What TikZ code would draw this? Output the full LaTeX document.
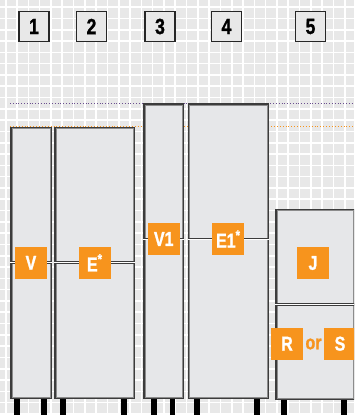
\documentclass[tikz,border=0pt]{standalone}
\usepackage{fontspec}
\newfontfamily\tagfont[FakeStretch=0.8,BoldFeatures={FakeBold=1.2}]{Liberation Sans}
\usetikzlibrary{calc}
\definecolor{paper}{HTML}{E8E8E8}
\definecolor{cabfill}{HTML}{E6E7E9}
\definecolor{cabedge}{HTML}{3C3C3C}
\definecolor{tagorange}{HTML}{F7941D}
\definecolor{topline}{HTML}{6B4F8F}

\begin{document}
\begin{tikzpicture}[x=1pt,y=-1pt,
      gridline/.style={white,line width=1.6pt},
      cabinet/.style={draw=cabedge,fill=cabfill,line width=1.9pt,anchor=north west,inner sep=0pt},
      cabinner/.style={draw=black!45,line width=0.6pt},
      divider/.style={draw=cabedge,double=white,double distance=1pt,line width=0.9pt},
      numbox/.style={draw=black!85,fill=paper,line width=1.6pt,minimum size=30pt,inner sep=0pt,
        font=\tagfont\bfseries\fontsize{22}{22}\selectfont},
      tag/.style={fill=tagorange,text=white,minimum size=32pt,inner sep=0pt,
        font=\tagfont\bfseries\fontsize{20}{20}\selectfont},
      leg/.style={fill=black}]
    \useasboundingbox (0,0) rectangle (354,415);
    \clip (0,0) rectangle (354,415);
    \fill[paper] (0,0) rectangle (354,415);
    % grid
    \foreach \i in {0,...,31}
      \draw[gridline] (5.7+\i*11.3,0) -- (5.7+\i*11.3,415);
    \foreach \j in {0,...,36}
      \draw[gridline] (0,7.1+\j*11.3) -- (354,7.1+\j*11.3);
    % height lines
    \draw[topline,dotted,line width=0.8pt] (10,103.3) -- (354,103.3);
    \draw[tagorange,dotted,line width=0.9pt] (10,126.2) -- (354,126.2);
    % legs
    \foreach \x in {14,41,60,120.7,150.7,169.5,194,254,281,341}
      \fill[leg] (\x,390) rectangle ++(5.8,30);
    % cabinets
    \node[cabinet,minimum width=39.4pt,minimum height=270.3pt] (cabA) at (10.3,126.7) {};
    \node[cabinet,minimum width=79pt,minimum height=270.3pt] (cabB) at (54.3,126.7) {};
    \node[cabinet,minimum width=39pt,minimum height=293.7pt] (cabC) at (143.3,103.3) {};
    \node[cabinet,minimum width=78.7pt,minimum height=293.7pt] (cabD) at (188,103.3) {};
    \node[cabinet,minimum width=77.4pt,minimum height=189.3pt] (cabE) at (275.3,208.7) {};
    \foreach \c in {cabA,cabB,cabC,cabD,cabE}
      \draw[cabinner] ($(\c.north west)+(1.5,1.5)$) rectangle ($(\c.south east)+(-1.5,-1.5)$);
    \coordinate (splitC) at (0,239);
    \draw[divider] (cabA.west) -- (cabA.east);
    \draw[divider] (cabB.west) -- (cabB.east);
    \draw[divider] (cabC.west |- splitC) -- (cabC.east |- splitC);
    \draw[divider] (cabD.west |- splitC) -- (cabD.east |- splitC);
    \draw[divider] (cabE.west) -- (cabE.east);
    % tags
    \node[tag] (tagV) at (cabA.center) {V};
    \node[tag] (tagE) at (cabB.center) {E\textsuperscript{*}};
    \node[tag] (tagVone) at (cabC.center |- splitC) {V1};
    \node[tag] (tagEone) at (cabD.center |- splitC) {E1\textsuperscript{*}};
    \node[tag] (tagJ) at (313,263) {J};
    \node[tag] (tagR) at (287,343.7) {R};
    \node[tag] (tagS) at (340,343.7) {S};
    \node[text=tagorange,inner sep=0pt,font=\tagfont\bfseries\fontsize{20}{20}\selectfont]
      (tagor) at (313.5,344) {or};
    % numbers
    \node[numbox] (num1) at (34,26.5) {1};
    \node[numbox] (num2) at (91.5,26.5) {2};
    \node[numbox] (num3) at (160,26.5) {3};
    \node[numbox] (num4) at (226.5,26.5) {4};
    \node[numbox] (num5) at (310.5,26.5) {5};
\end{tikzpicture}
\end{document}
